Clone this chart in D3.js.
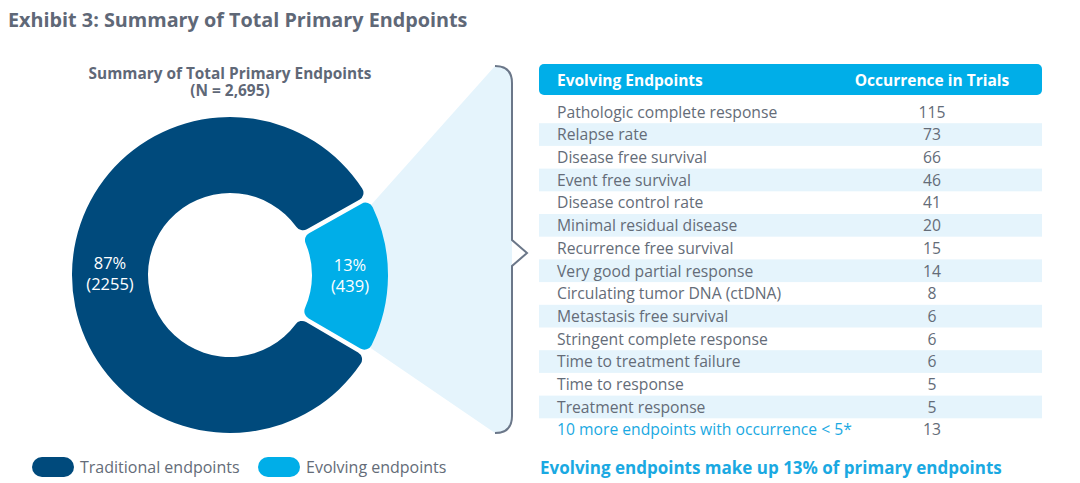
<!DOCTYPE html>
<html>
<head>
<meta charset="utf-8">
<script src="https://cdn.jsdelivr.net/npm/d3@7"></script>
<style>
  body { margin: 0; background: #fff; }
  svg { font-family: "Open Sans", "Noto Sans", sans-serif; }
</style>
</head>
<body>
<div id="chart"></div>
<script>
// donut data
var segments = ["Evolving endpoints", "Traditional endpoints"];
var segmentCounts = [439, 2255];
var segmentPct = ["13%", "87%"];
var legendOrder = ["Traditional endpoints", "Evolving endpoints"];

// table data
var endpoints = [
  "Pathologic complete response",
  "Relapse rate",
  "Disease free survival",
  "Event free survival",
  "Disease control rate",
  "Minimal residual disease",
  "Recurrence free survival",
  "Very good partial response",
  "Circulating tumor DNA (ctDNA)",
  "Metastasis free survival",
  "Stringent complete response",
  "Time to treatment failure",
  "Time to response",
  "Treatment response",
  "10 more endpoints with occurrence < 5*"
];
var occurrences = [115, 73, 66, 46, 41, 20, 15, 14, 8, 6, 6, 6, 5, 5, 13];

var width = 1080, height = 483;
var navy = "#004a7c", cyan = "#00aee8", pale = "#e5f4fc", grey = "#646c78";

var color = d3.scaleOrdinal().domain(segments).range([cyan, navy]);

var svg = d3.select("#chart").append("svg")
  .attr("width", width)
  .attr("height", height);

svg.append("text")
  .attr("x", 8).attr("y", 27)
  .attr("fill", "#5f6877")
  .attr("font-size", 19.8).attr("font-weight", 700)
  .text("Exhibit 3: Summary of Total Primary Endpoints");

// ---- donut ----
var cx = 230, cy = 275, rOuter = 158, rInner = 82;
var total = d3.sum(segmentCounts);
var span = 2 * Math.PI * segmentCounts[0] / total;
var start = Math.PI / 2 - span / 2;

var pie = d3.pie().sort(null)
  .startAngle(start).endAngle(start + 2 * Math.PI)
  .padAngle(0.025)
  .value(function(d, i) { return segmentCounts[i]; });

var arc = d3.arc().innerRadius(rInner).outerRadius(rOuter).cornerRadius(8);
var arcs = pie(segments);

// funnel from evolving slice to the bracket
var bx = 512, bTop = 66, bBot = 433, bMid = 253;
var a0 = arcs[0].startAngle + 0.05, a1 = arcs[0].endAngle - 0.05;
var p0 = [cx + rOuter * Math.sin(a0), cy - rOuter * Math.cos(a0)];
var p1 = [cx + rOuter * Math.sin(a1), cy - rOuter * Math.cos(a1)];

var funnel = d3.path();
funnel.moveTo(p0[0], p0[1]);
funnel.lineTo(bx - 17, bTop);
funnel.quadraticCurveTo(bx, bTop, bx, bTop + 17);
funnel.lineTo(bx, bBot - 17);
funnel.quadraticCurveTo(bx, bBot, bx - 17, bBot);
funnel.lineTo(p1[0], p1[1]);
funnel.closePath();
svg.append("path").attr("d", funnel.toString()).attr("fill", pale);

var bracket = d3.path();
bracket.moveTo(bx - 17, bTop);
bracket.quadraticCurveTo(bx, bTop, bx, bTop + 17);
bracket.lineTo(bx, bMid - 13);
bracket.lineTo(bx + 15, bMid);
bracket.lineTo(bx, bMid + 13);
bracket.lineTo(bx, bBot - 17);
bracket.quadraticCurveTo(bx, bBot, bx - 17, bBot);
svg.append("path").attr("d", bracket.toString())
  .attr("fill", "none").attr("stroke", "#6b7789").attr("stroke-width", 2);

var g = svg.append("g").attr("transform", "translate(" + cx + "," + cy + ")");

g.selectAll("path.slice")
  .data(arcs)
  .enter().append("path")
  .attr("class", "slice")
  .attr("d", arc)
  .attr("fill", function(d) { return color(d.data); });

var labels = g.selectAll("text.lbl")
  .data(arcs)
  .enter().append("text")
  .attr("class", "lbl")
  .attr("transform", function(d) { return "translate(" + arc.centroid(d) + ")"; })
  .attr("text-anchor", "middle")
  .attr("fill", "#fff")
  .attr("font-size", 16.5);
labels.append("tspan").attr("x", 0).attr("y", -5).text(function(d) { return segmentPct[d.index]; });
labels.append("tspan").attr("x", 0).attr("y", 16).text(function(d) { return "(" + segmentCounts[d.index] + ")"; });

// two-line subtitle in one text element
var sub = svg.append("text")
  .attr("text-anchor", "middle")
  .attr("fill", "#5f6877").attr("font-size", 15.4).attr("font-weight", 700);
sub.append("tspan").attr("x", cx).attr("y", 79).text("Summary of Total Primary Endpoints");
sub.append("tspan").attr("x", cx).attr("y", 96).text("(N = " + d3.format(",")(total + 1) + ")");

// legend
var legendX = d3.scaleOrdinal().domain(legendOrder).range([32, 258]);
var leg = svg.selectAll("g.leg")
  .data(legendOrder)
  .enter().append("g")
  .attr("class", "leg")
  .attr("transform", function(d) { return "translate(" + legendX(d) + ",457)"; });
leg.append("rect")
  .attr("width", 42).attr("height", 20).attr("rx", 10)
  .attr("fill", function(d) { return color(d); });
leg.append("text")
  .attr("x", 48).attr("y", 16)
  .attr("fill", grey).attr("font-size", 16)
  .text(function(d) { return d; });

// ---- table ----
var tx0 = 539, tx1 = 1042, valX = 932;
svg.append("rect")
  .attr("x", tx0).attr("y", 64)
  .attr("width", tx1 - tx0).attr("height", 31)
  .attr("rx", 5).attr("fill", cyan);
svg.append("text")
  .attr("x", 557).attr("y", 86)
  .attr("fill", "#fff").attr("font-size", 15.5).attr("font-weight", 700)
  .text("Evolving Endpoints");
svg.append("text")
  .attr("x", valX).attr("y", 86)
  .attr("text-anchor", "middle")
  .attr("fill", "#fff").attr("font-size", 15.5).attr("font-weight", 700)
  .text("Occurrence in Trials");

var y = d3.scaleBand()
  .domain(endpoints)
  .range([100.5, 100.5 + 22.7 * endpoints.length]);

var rows = svg.selectAll("g.row")
  .data(endpoints)
  .enter().append("g")
  .attr("class", "row")
  .attr("transform", function(d) { return "translate(0," + y(d) + ")"; });

rows.filter(function(d, i) { return i % 2 === 1; })
  .append("rect")
  .attr("x", tx0).attr("width", tx1 - tx0)
  .attr("height", y.bandwidth())
  .attr("fill", pale);

rows.append("text")
  .attr("x", 557).attr("y", y.bandwidth() / 2 + 5.8)
  .attr("font-size", 15.7)
  .attr("fill", function(d, i) { return i === endpoints.length - 1 ? "#1aa9e2" : grey; })
  .text(function(d) { return d; });

rows.append("text")
  .attr("x", valX).attr("y", y.bandwidth() / 2 + 5.8)
  .attr("text-anchor", "middle")
  .attr("font-size", 15.7).attr("fill", grey)
  .text(function(d, i) { return occurrences[i]; });

svg.append("text")
  .attr("x", 540).attr("y", 474)
  .attr("fill", "#1aa9e2").attr("font-size", 17).attr("font-weight", 700)
  .text("Evolving endpoints make up 13% of primary endpoints");
</script>
</body>
</html>
